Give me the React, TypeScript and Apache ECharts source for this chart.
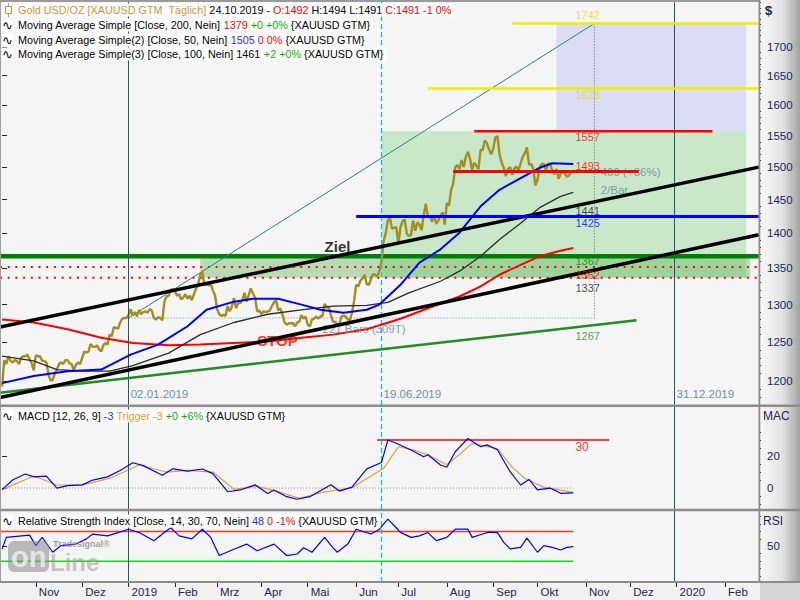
import React, { useEffect, useRef } from 'react';
import * as echarts from 'echarts';

// ---------------- DATA ----------------
const START_DATE = '2018-10-10'; // bar 0, one bar per weekday

// daily closes XAUUSD, every weekday 2018-10-10 .. 2019-10-24
const closes = [
  1194, 1227, 1222,
  1232, 1226, 1224, 1227, 1226,
  1222, 1230, 1232, 1232, 1234,
  1228, 1223, 1214, 1233, 1232,
  1232, 1226, 1226, 1224, 1209,
  1201, 1202, 1210, 1215, 1222,
  1224, 1222, 1227, 1227, 1223,
  1222, 1214, 1221, 1224, 1222,
  1230, 1238, 1237, 1238, 1248,
  1244, 1244, 1246, 1241, 1238,
  1246, 1249, 1247, 1260, 1258,
  1270, 1269, 1268, 1276, 1281,
  1282, 1282, 1286, 1294, 1285,
  1290, 1284, 1293, 1287, 1290,
  1291, 1289, 1294, 1292, 1282,
  1280, 1283, 1282, 1279, 1304,
  1311, 1312, 1320, 1321, 1318,
  1312, 1314, 1307, 1310, 1314,
  1308, 1312, 1306, 1314, 1322,
  1327, 1341, 1345, 1326, 1328,
  1326, 1329, 1319, 1313, 1294,
  1287, 1285, 1286, 1285, 1298,
  1291, 1297, 1309, 1295, 1302,
  1302, 1306, 1316, 1304, 1313,
  1322, 1315, 1310, 1291, 1292,
  1287, 1291, 1290, 1291, 1292,
  1298, 1303, 1306, 1292, 1295,
  1287, 1276, 1273, 1275, 1275,
  1275, 1271, 1276, 1277, 1286,
  1281, 1284, 1273, 1271, 1280,
  1281, 1284, 1281, 1284, 1285,
  1301, 1296, 1297, 1286, 1277,
  1277, 1273, 1274, 1284, 1285,
  1284, 1280, 1279, 1289, 1305,
  1327, 1325, 1333, 1336, 1341,
  1328, 1327, 1335, 1342, 1341,
  1339, 1346, 1360, 1389, 1400,
  1419, 1423, 1407, 1408, 1409,
  1385, 1409, 1418, 1420, 1400,
  1396, 1398, 1419, 1404, 1416,
  1413, 1405, 1426, 1444, 1425,
  1425, 1417, 1426, 1414, 1419,
  1426, 1431, 1413, 1445, 1441,
  1464, 1474, 1500, 1503, 1497,
  1511, 1500, 1516, 1524, 1513,
  1496, 1507, 1502, 1497, 1527,
  1527, 1542, 1538, 1528, 1520,
  1529, 1547, 1549, 1520, 1507,
  1499, 1486, 1497, 1500, 1488,
  1498, 1501, 1495, 1506, 1516,
  1522, 1531, 1504, 1505, 1497,
  1472, 1480, 1499, 1505, 1505,
  1494, 1505, 1506, 1494, 1489,
  1497, 1482, 1490, 1493, 1490,
  1485, 1487, 1494, 1491,
];

// moving averages (bar number, value)
const sma200Bars = [0, 15, 31, 47, 62, 79, 94, 110, 126, 142, 157, 173, 189, 203, 217, 227, 236, 246, 255, 265, 271];
const sma200 = [1280, 1276, 1267, 1256, 1249, 1246, 1247, 1249, 1251, 1256, 1260, 1267, 1281, 1296, 1311, 1325, 1341, 1355, 1367, 1375, 1379];
const sma50Bars = [0, 15, 31, 47, 61, 74, 88, 97, 110, 119, 131, 142, 151, 162, 173, 179, 189, 198, 208, 217, 227, 236, 246, 255, 261, 271];
const sma50 = [1198, 1207, 1213, 1215, 1234, 1247, 1271, 1293, 1304, 1308, 1308, 1300, 1293, 1289, 1293, 1300, 1327, 1358, 1377, 1401, 1440, 1465, 1483, 1499, 1506, 1505];
const sma100Bars = [0, 15, 26, 39, 51, 62, 79, 94, 110, 126, 142, 157, 173, 183, 193, 208, 217, 227, 236, 246, 255, 265, 271];
const sma100 = [1232, 1226, 1215, 1213, 1213, 1220, 1236, 1260, 1276, 1287, 1293, 1298, 1299, 1303, 1316, 1332, 1346, 1367, 1391, 1415, 1438, 1455, 1461];

// MACD (12,26,9)
const macdBars = [0, 5, 11, 15, 21, 26, 31, 38, 43, 50, 56, 62, 67, 76, 81, 88, 95, 100, 107, 113, 120, 126, 129, 135, 140, 146, 156, 160, 166, 173, 180, 183, 187, 194, 200, 202, 208, 211, 215, 221, 227, 230, 235, 241, 246, 250, 254, 260, 265, 271];
const macd = [-1, 5, 8.8, 7, 7.5, 0, 1.5, 2, 5, 7, 11, 15.8, 14, 8, 12, 10.6, 11.9, 9, -2.3, -1.2, 2, -3.4, -1.2, -5.4, -7, -5.4, 2, -1.9, 0.6, 12, 16, 30, 28, 23.8, 19.6, 20.8, 14.4, 13, 22.7, 31, 25.8, 27, 23.9, 10.2, 1.9, 5.4, -1.2, 0, -3.3, -3];
const triggerBars = [0, 15, 26, 38, 51, 65, 78, 88, 100, 110, 121, 132, 141, 152, 166, 181, 188, 195, 202, 211, 217, 223, 235, 242, 248, 257, 271];
const trigger = [-1, 7.5, 1.9, 2, 6, 14.4, 10, 11, 10, -0.8, 1, -2.7, -6.5, -2.7, 0.2, 12.3, 25.8, 23.8, 20.8, 14.6, 21, 27.9, 24.6, 13.1, 6, 0.6, -2.7];
const macdLevel = 30;

// RSI (14)
const rsiBars = [0, 2, 8, 13, 16, 19, 24, 28, 35, 40, 43, 50, 55, 60, 65, 72, 77, 80, 84, 90, 95, 99, 103, 110, 116, 121, 129, 135, 140, 143, 147, 153, 157, 159, 164, 168, 175, 179, 183, 187, 189, 194, 198, 202, 206, 211, 215, 221, 223, 228, 231, 235, 238, 241, 246, 249, 254, 257, 261, 265, 268, 271];
const rsi = [46.5, 62, 63.6, 65, 51, 62, 42, 51, 53, 60, 66.5, 64, 68.5, 73, 68.5, 57.6, 68.5, 75, 64, 60, 73, 62, 37.6, 46, 53, 44, 53, 37.6, 39.7, 48, 42, 62, 48, 42, 53, 73, 66.5, 73, 86.5, 75, 68.7, 62, 64, 68.5, 57.6, 62, 73, 73, 62, 66.5, 69, 68.5, 55.3, 46.5, 48.6, 61, 42, 51, 48.6, 45, 48.6, 49.6];
const rsiLevels = [70, 30];

// analyst drawings
const levelPrices = [1742, 1628, 1557, 1493, 1425, 1367, 1352, 1337];
const levelFromBar = [242, 202, 224, 214, 168, -1, -1, -1];
const levelToBar = [359, 359, 337, 302, 359, 359, 359, 359];
const trendValueLabels = [1441, 1267];
const channelBars = [-1, 359];
const channelUpper = [1270, 1500];
const channelLower = [1180, 1398];
const greenTrendBars = [-1, 301];
const greenTrend = [1186, 1279];
const projBars = [60, 281];
const projPrices = [1282, 1742];
const boxBars = [[263, 353], [180, 353], [94, 355]];
const boxPrices = [[1557, 1742], [1337, 1557], [1337, 1367]];
const noteTexts = ['Ziel', 'STOP', '221 Bars (309T)', '469 (+36%)', '2/Bar'];
const noteBars = [153, 121, 152, 284, 284];
const notePrices = [1381, 1252, 1267, 1493, 1465];
const markedDates = ['2019-01-02', '2019-06-19', '2019-12-31'];
const markedLabels = ['02.01.2019', '19.06.2019', '31.12.2019'];

// axes
const monthDates = ['2018-11-01', '2018-12-03', '2019-01-02', '2019-02-01', '2019-03-01', '2019-04-01', '2019-05-01', '2019-06-03', '2019-07-01', '2019-08-01', '2019-09-02', '2019-10-01', '2019-11-01', '2019-12-02', '2020-01-01', '2020-02-03'];
const monthLabels = ['Nov', 'Dez', '2019', 'Feb', 'Mrz', 'Apr', 'Mai', 'Jun', 'Jul', 'Aug', 'Sep', 'Okt', 'Nov', 'Dez', '2020', 'Feb'];
const priceTicks = [1200, 1250, 1300, 1350, 1400, 1450, 1500, 1550, 1600, 1650, 1700];
const priceMinorTicks = [1180, 1190, 1210, 1220, 1230, 1240, 1260, 1270, 1280, 1290, 1310, 1320, 1330, 1340, 1360, 1370, 1380, 1390, 1410, 1420, 1430, 1440, 1460, 1470, 1480, 1490, 1510, 1520, 1530, 1540, 1560, 1570, 1580, 1590, 1610, 1620, 1630, 1640, 1660, 1670, 1680, 1690, 1710, 1720, 1730, 1740, 1750, 1760, 1770, 1780];
const macdTicks = [0, 20];
const macdMinorTicks = [-10, -5, 5, 10, 15, 25, 30, 35];
const rsiTicks = [50];
const rsiMinorTicks = [10, 20, 30, 40, 60, 70, 80, 90];

// legend values
const lastDate = '24.10.2019';
const lastOHLC = [1492, 1494, 1491, 1491];
const maLast = [1379, 1505, 1461];
const macdLast = [-3, -3];
const rsiLast = 48;

// ---------------- HELPERS ----------------
const FONT = '"Liberation Sans", Arial, sans-serif';
const L = Math.log;
const DAY = 86400000;
function barOf(date: string): number {
  const [sy, sm, sd] = START_DATE.split('-').map(Number);
  const [y, m, d] = date.split('-').map(Number);
  const s = Date.UTC(sy, sm - 1, sd);
  const t = Date.UTC(y, m - 1, d);
  let n = 0;
  for (let u = s + DAY; u <= t; u += DAY) {
    const wd = new Date(u).getUTCDay();
    if (wd !== 0 && wd !== 6) n++;
  }
  return n;
}
const pairs = (bars: number[], vals: number[], f = (v: number) => v) => bars.map((b, i) => [b, f(vals[i])]);

const XMIN = -1;
const XMAX = 359.1;
const PMIN = 1171;
const PMAX = 1785;

function lineSeries(xi: number, yi: number, data: any[], color: string, width: number, type: any = 'solid', z = 3) {
  return {
    type: 'line', xAxisIndex: xi, yAxisIndex: yi, data, showSymbol: false, symbol: 'none', silent: true,
    lineStyle: { color, width, type, cap: 'butt' }, z, animation: false,
  };
}

function buildOption() {
  const monthBars = monthDates.map(barOf);
  const monthMap = new Map<number, string>();
  monthBars.forEach((b, i) => monthMap.set(b, monthLabels[i]));
  const markedBars = markedDates.map(barOf);

  const grids = [
    { left: 0, top: 0, width: 759, height: 405 },
    { left: 0, top: 407, width: 759, height: 102 },
    { left: 0, top: 511, width: 759, height: 71 },
  ].map((g) => ({ ...g, show: true, backgroundColor: '#f5f5f5', borderWidth: 0 }));

  const hidX = (gi: number) => ({ type: 'value', gridIndex: gi, min: XMIN, max: XMAX, show: false });
  const axisText = { color: '#1c2550', fontSize: 11.5, fontFamily: FONT };
  const yMajor = (gi: number, min: number, max: number, ticks: number[], fmt: (v: number) => string) => ({
    type: 'value', gridIndex: gi, position: 'right', min, max,
    splitLine: { show: false }, axisLine: { show: false },
    axisTick: { show: true, customValues: ticks, length: 5, lineStyle: { color: '#222', width: 1 } },
    axisLabel: { show: true, customValues: ticks, formatter: fmt, margin: 8, ...axisText },
  });
  const yMinor = (gi: number, min: number, max: number, ticks: number[]) => ({
    type: 'value', gridIndex: gi, position: 'right', min, max,
    splitLine: { show: false }, axisLine: { show: false },
    axisTick: { show: true, customValues: ticks, length: 2, lineStyle: { color: '#222', width: 1 } },
    axisLabel: { show: false },
  });

  const series: any[] = [];

  // boxes (main panel)
  const boxColors = ['#dcdcf5', 'rgba(135,210,135,0.4)', 'rgba(95,185,95,0.42)'];
  series.push({
    type: 'line', xAxisIndex: 0, yAxisIndex: 0, data: [[-5, L(1300)], [-4, L(1300)]], showSymbol: false,
    lineStyle: { opacity: 0 }, silent: true, z: 1,
    markArea: {
      silent: true,
      data: boxBars.map((bb, i) => [
        { coord: [bb[0], L(boxPrices[i][1])], itemStyle: { color: boxColors[i] } },
        { coord: [bb[1], L(boxPrices[i][0])] },
      ]),
    },
  });

  // vertical date lines in every panel
  const vStyles = [
    { color: '#1d5c5c', width: 1, type: 'solid' },
    { color: '#12c2cc', width: 1.3, type: [5, 3] },
    { color: '#1d5c5c', width: 1, type: 'solid' },
  ];
  [0, 1, 2].forEach((gi) => {
    const yi = gi * 2;
    series.push({
      type: 'line', xAxisIndex: gi, yAxisIndex: yi, data: [], showSymbol: false, silent: true, z: 2,
      markLine: {
        silent: true, symbol: ['none', 'none'], label: { show: false }, animation: false,
        data: markedBars.map((b, i) => ({ xAxis: b, lineStyle: { ...vStyles[i], opacity: 1 } })),
      },
    });
  });

  // horizontal levels
  const levelStyle = [
    { color: '#eeee00', width: 2.5, type: 'solid', text: '#e2e200', dy: -8 },
    { color: '#eeee00', width: 2.5, type: 'solid', text: '#e2e200', dy: 7 },
    { color: '#ff0000', width: 2.5, type: 'solid', text: '#ff0000', dy: 6 },
    { color: '#ff0000', width: 3, type: 'solid', text: '#ff0000', dy: -6 },
    { color: '#0000ff', width: 3, type: 'solid', text: '#0000ff', dy: 7 },
    { color: '#008000', width: 4.5, type: 'solid', text: '#008000', dy: 5 },
    { color: '#ff0000', width: 2, type: [2, 5.7], text: '#ff0000', dy: 8 },
    { color: '#ff0000', width: 2, type: [2, 5.7], text: '#222222', dy: 10 },
  ];
  // dotted / green lines under price
  [5, 6, 7].forEach((i) => {
    const s = levelStyle[i];
    series.push(lineSeries(0, 0, [[levelFromBar[i], L(levelPrices[i])], [levelToBar[i], L(levelPrices[i])]], s.color, s.width, s.type, 3));
  });

  // projection tool
  series.push(lineSeries(0, 0, pairs(projBars, projPrices, L), '#2b7f86', 1, 'solid', 3));
  series.push(lineSeries(0, 0, [[projBars[0], L(projPrices[0])], [projBars[1], L(projPrices[0])]], '#6f8f95', 1, [1, 2], 3));
  series.push(lineSeries(0, 0, [[projBars[1], L(projPrices[1])], [projBars[1], L(projPrices[0])]], '#58607a', 1, [1, 2], 3));

  // price
  series.push(lineSeries(0, 0, closes.map((c, i) => [i, L(c)]), '#a58e1c', 2.4, 'solid', 4));
  // MAs
  series.push(lineSeries(0, 0, pairs(sma200Bars, sma200, L), '#ff0000', 2, 'solid', 5));
  series.push(lineSeries(0, 0, pairs(sma100Bars, sma100, L), '#2a2a2a', 1.3, 'solid', 5));
  series.push(lineSeries(0, 0, pairs(sma50Bars, sma50, L), '#0000ff', 2, 'solid', 5));

  // trend lines
  series.push(lineSeries(0, 0, pairs(greenTrendBars, greenTrend, L), '#238c23', 2.5, 'solid', 6));
  series.push(lineSeries(0, 0, pairs(channelBars, channelUpper, L), '#000000', 3.5, 'solid', 6));
  series.push(lineSeries(0, 0, pairs(channelBars, channelLower, L), '#000000', 3.5, 'solid', 6));

  // other horizontal levels on top
  [0, 1, 2, 3, 4].forEach((i) => {
    const s = levelStyle[i];
    series.push(lineSeries(0, 0, [[levelFromBar[i], L(levelPrices[i])], [levelToBar[i], L(levelPrices[i])]], s.color, s.width, s.type, 7));
  });

  // labels of levels
  const labelBar = 272;
  const lbl = (text: string, color: string, dy: number, extra: any = {}) => ({
    show: true, position: 'right', distance: 0, offset: [0, dy], formatter: text, color,
    fontSize: 11, fontFamily: FONT, lineHeight: 12, ...extra,
  });
  const levelLabelData: any[] = levelPrices.map((p, i) => ({
    value: [labelBar, L(p)], label: lbl(String(p), levelStyle[i].text, levelStyle[i].dy),
  }));
  levelLabelData.push({ value: [labelBar, L(trendValueLabels[0])], label: lbl(String(trendValueLabels[0]), '#1a1a1a', 5) });
  levelLabelData.push({ value: [labelBar, L(trendValueLabels[1])], label: lbl(String(trendValueLabels[1]), '#1d8a1d', 7) });
  markedBars.forEach((b, i) => {
    levelLabelData.push({ value: [b + 1, L(1184)], label: lbl(markedLabels[i], '#44739a', 0, { fontSize: 11.5 }) });
  });
  series.push({ type: 'scatter', xAxisIndex: 0, yAxisIndex: 0, symbolSize: 0, silent: true, z: 20, data: levelLabelData });

  const noteStyles = [
    { color: '#000000', fontSize: 15, fontWeight: 'bold', lineHeight: 16 },
    { color: '#ff0000', fontSize: 15, fontWeight: 'bold', lineHeight: 16 },
    { color: '#5e8a98', fontSize: 11.5 },
    { color: '#5e8a98', fontSize: 11.5 },
    { color: '#5e8a98', fontSize: 11.5 },
  ];
  series.push({
    type: 'scatter', xAxisIndex: 0, yAxisIndex: 0, symbolSize: 0, silent: true, z: 5,
    data: noteTexts.map((t, i) => ({ value: [noteBars[i], L(notePrices[i])], label: lbl(t, noteStyles[i].color, 0, noteStyles[i]) })),
  });

  // MACD panel
  const lastBar = closes.length - 1;
  series.push(lineSeries(1, 2, [[-1, 0], [lastBar, 0]], '#8a8a8a', 1, [1, 2], 3));
  series.push(lineSeries(1, 2, [[178, macdLevel], [288, macdLevel]], '#ff0000', 1.5, 'solid', 3));
  series.push(lineSeries(1, 2, pairs(triggerBars, trigger), '#e2a035', 1.2, 'solid', 4));
  series.push(lineSeries(1, 2, pairs(macdBars, macd), '#0000ff', 1.2, 'solid', 5));
  series.push({
    type: 'scatter', xAxisIndex: 1, yAxisIndex: 2, symbolSize: 0, silent: true, z: 6,
    data: [{ value: [labelBar, macdLevel], label: lbl(String(macdLevel), '#ff0000', 7, { fontSize: 12 }) }],
  });

  // RSI panel
  series.push(lineSeries(2, 4, [[-1, rsiLevels[0]], [lastBar, rsiLevels[0]]], '#ff3a10', 1.5, 'solid', 3));
  series.push(lineSeries(2, 4, [[-1, rsiLevels[1]], [lastBar, rsiLevels[1]]], '#10e010', 1.5, 'solid', 3));
  series.push(lineSeries(2, 4, pairs(rsiBars, rsi), '#0000ff', 1.2, 'solid', 5));

  // ---------- graphics ----------
  const LF = 10.8;
  const legendRich = {
    k: { fill: '#000000', fontSize: LF, fontFamily: FONT },
    g: { fill: '#c8983a', fontSize: LF, fontFamily: FONT },
    r: { fill: '#ff0000', fontSize: LF, fontFamily: FONT },
    gr: { fill: '#00b400', fontSize: LF, fontFamily: FONT },
    b: { fill: '#2a2aff', fontSize: LF, fontFamily: FONT },
    o: { fill: '#e0a030', fontSize: LF, fontFamily: FONT },
  };
  const legendText = (x: number, y: number, text: string) => ({
    type: 'text', x, y, z: 60, silent: true,
    style: {
      text, rich: legendRich, fill: '#000', font: `${LF}px ${FONT}`, fontSize: LF, fontFamily: FONT,
      verticalAlign: 'middle', textVerticalAlign: 'middle', backgroundColor: '#ffffff', padding: [1, 3, 1, 2],
    },
  });
  const wave = (y: number) => ({
    type: 'text', x: 2, y, z: 61, silent: true,
    style: { text: '\u223f', fill: '#000', font: `13px "DejaVu Sans"`, verticalAlign: 'middle', textVerticalAlign: 'middle', backgroundColor: '#ffffff' },
  });
  const [o, h, lo, c] = lastOHLC;

  const graphics: any[] = [
    {
      type: 'rect', z: -10, silent: true, shape: { x: 760, y: 0, width: 40, height: 583 },
      style: {
        fill: new echarts.graphic.LinearGradient(0, 0, 1, 0, [
          { offset: 0, color: '#f8f8f8' }, { offset: 0.55, color: '#e4e4e4' }, { offset: 1, color: '#a2a2a2' },
        ]),
      },
    },
    { type: 'rect', z: -10, silent: true, shape: { x: 0, y: 583, width: 760, height: 17 }, style: { fill: '#f1f1f1' } },
    { type: 'rect', z: -10, silent: true, shape: { x: 760, y: 583, width: 40, height: 17 }, style: { fill: '#d5d5d5' } },
    // separators
    { type: 'rect', z: 50, silent: true, shape: { x: 0, y: 0, width: 760, height: 2 }, style: { fill: '#9a9a9a' } },
    { type: 'rect', z: 50, silent: true, shape: { x: 0, y: 0, width: 1, height: 583 }, style: { fill: '#a0a0a0' } },
    { type: 'rect', z: 50, silent: true, shape: { x: 0, y: 404.5, width: 800, height: 2.5 }, style: { fill: '#8c8c8c' } },
    { type: 'rect', z: 50, silent: true, shape: { x: 0, y: 508.8, width: 800, height: 2.5 }, style: { fill: '#8c8c8c' } },
    { type: 'rect', z: 50, silent: true, shape: { x: 0, y: 581, width: 800, height: 2 }, style: { fill: '#8c8c8c' } },
    { type: 'rect', z: 50, silent: true, shape: { x: 758.5, y: 0, width: 1.8, height: 583 }, style: { fill: '#8c8c8c' } },
    // axis headers
    { type: 'text', x: 765, y: 4, z: 60, silent: true, style: { text: '$', fill: '#1c2550', font: `bold 13px ${FONT}` } },
    { type: 'text', x: 763, y: 410, z: 60, silent: true, style: { text: 'MAC', fill: '#1c2550', font: `12px ${FONT}` } },
    { type: 'text', x: 763, y: 515, z: 60, silent: true, style: { text: 'RSI', fill: '#1c2550', font: `12px ${FONT}` } },
    // watermark
    { type: 'rect', z: 40, silent: true, shape: { x: 8, y: 541, width: 41, height: 31, r: 6 }, style: { fill: 'rgba(135,135,135,0.55)' } },
    { type: 'text', x: 11, y: 557, z: 41, silent: true, style: { text: 'on', fill: 'rgba(236,236,236,0.9)', font: `bold 29px ${FONT}`, verticalAlign: 'middle', textVerticalAlign: 'middle' } },
    { type: 'text', x: 50, y: 562, z: 41, silent: true, style: { text: 'Line', fill: 'rgba(150,150,150,0.5)', font: `bold 24px ${FONT}`, verticalAlign: 'middle', textVerticalAlign: 'middle' } },
    { type: 'text', x: 53, y: 544, z: 42, silent: true, style: { text: 'Tradesignal\u00ae', fill: 'rgba(130,130,130,0.75)', font: `bold 9px ${FONT}`, verticalAlign: 'middle', textVerticalAlign: 'middle' } },
    // legends
    { type: 'rect', z: 59, silent: true, shape: { x: 2, y: 3, width: 14, height: 14 }, style: { fill: '#ffffff' } },
    { type: 'line', z: 61, silent: true, shape: { x1: 8.5, y1: 3, x2: 8.5, y2: 17 }, style: { stroke: '#c8983a', lineWidth: 1 } },
    { type: 'rect', z: 61, silent: true, shape: { x: 5.5, y: 6.5, width: 6, height: 7 }, style: { fill: '#ffffff', stroke: '#c8983a', lineWidth: 1 } },
    legendText(16, 10, `{g|Gold USD/OZ [XAUUSD GTM  T\u00e4glich]} ${lastDate} - {r|O:${o}} H:${h} L:${lo} {r|C:${c} -1 0%}`),
    wave(25),
    legendText(16, 25, `Moving Average Simple [Close, 200, Nein] {r|${maLast[0]}} {gr|+0 +0%} {XAUUSD GTM}`),
    wave(40),
    legendText(16, 40, `Moving Average Simple(2) [Close, 50, Nein] {b|${maLast[1]}} {r|0 0%} {XAUUSD GTM}`),
    wave(54),
    legendText(16, 54, `Moving Average Simple(3) [Close, 100, Nein] ${maLast[2]} {gr|+2 +0%} {XAUUSD GTM}`),
    wave(416),
    legendText(16, 416, `MACD [12, 26, 9] {b|${macdLast[0]}} {o|Trigger ${macdLast[1]}} {gr|+0 +6%} {XAUUSD GTM}`),
    wave(521),
    legendText(16, 521, `Relative Strength Index [Close, 14, 30, 70, Nein] {b|${rsiLast}} {r|0 -1%} {XAUUSD GTM}`),
  ];

  return {
    animation: false,
    backgroundColor: '#f4f4f4',
    grid: grids,
    xAxis: [
      hidX(0),
      hidX(1),
      {
        type: 'value', gridIndex: 2, min: XMIN, max: XMAX, position: 'bottom',
        splitLine: { show: false }, axisLine: { show: false },
        axisTick: { show: true, customValues: monthBars, length: 5, lineStyle: { color: '#222', width: 1 } },
        axisLabel: {
          show: true, customValues: monthBars, formatter: (v: number) => monthMap.get(v) ?? '',
          margin: 4, align: 'left', padding: [0, 0, 0, 3], ...axisText,
        },
      },
    ],
    yAxis: [
      yMajor(0, L(PMIN), L(PMAX), priceTicks.map(L), (v: number) => String(Math.round(Math.exp(v)))),
      yMinor(0, L(PMIN), L(PMAX), priceMinorTicks.map(L)),
      yMajor(1, -13.1, 50.65, macdTicks, (v: number) => String(v)),
      yMinor(1, -13.1, 50.65, macdMinorTicks),
      yMajor(2, 2, 97.5, rsiTicks, (v: number) => String(v)),
      yMinor(2, 2, 97.5, rsiMinorTicks),
    ],
    series,
    graphic: { elements: graphics },
  };
}

export default function App() {
  const ref = useRef<HTMLDivElement>(null);
  useEffect(() => {
    const el = ref.current;
    if (!el) return;
    const chart = echarts.init(el, undefined, { renderer: 'svg' });
    chart.setOption(buildOption() as any);
    return () => chart.dispose();
  }, []);
  return <div ref={ref} style={{ position: 'absolute', left: 0, top: 0, width: 800, height: 600 }} />;
}
